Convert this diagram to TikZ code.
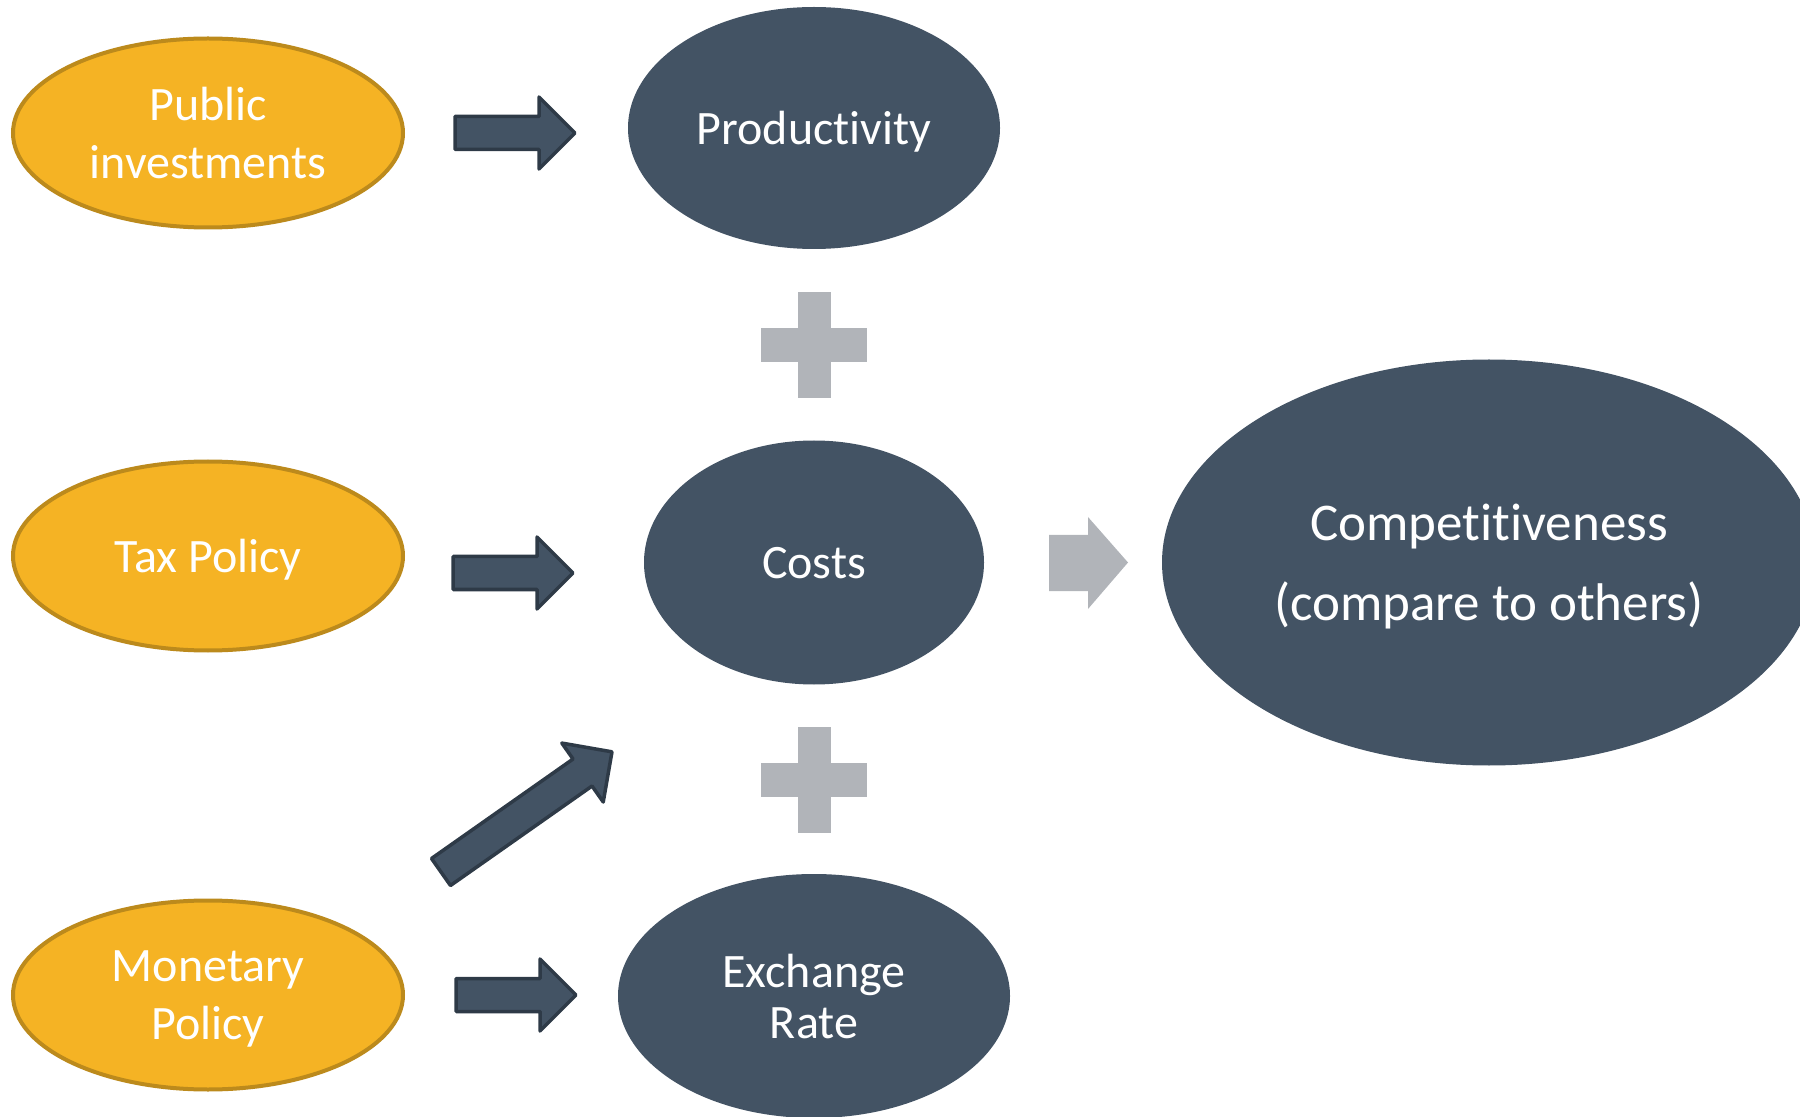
\documentclass[tikz,border=0pt]{standalone}
\usepackage{fontspec}
\setmainfont[Ligatures=NoCommon]{Carlito}
\usetikzlibrary{shapes.geometric,calc}

\definecolor{gold}{HTML}{F5B324}
\definecolor{goldline}{HTML}{BC8A1C}
\definecolor{slate}{HTML}{435364}
\definecolor{slateline}{HTML}{2E3A47}
\definecolor{mist}{HTML}{B1B4B9}

\tikzset{
  oval/.style={ellipse, inner sep=0pt, align=center, text=white, text depth=0pt},
  policy/.style={oval, fill=gold, draw=goldline, line width=2pt,
    minimum width=195pt, minimum height=94.5pt,
    font=\fontsize{24}{29}\selectfont},
  factor/.style={oval, fill=slate, font=\fontsize{24}{29}\selectfont},
  % block arrow pointing along +x, length #1
  blockarrow/.pic={
    \draw[fill=slate, draw=slateline, line width=1.75pt, line join=round]
      (0,-16.5) -- (#1-36,-16.5) -- (#1-36,-36) -- (#1,0)
      -- (#1-36,36) -- (#1-36,16.5) -- (0,16.5) -- cycle;
  },
  plussign/.pic={
    \fill[mist] (-16.5,-53) rectangle (16.5,53);
    \fill[mist] (-53,-17) rectangle (53,17);
  }
}

\begin{document}
\begin{tikzpicture}[x=0.5pt,y=-0.5pt]
\useasboundingbox (0,0) rectangle (1800,1117);

% policy levers
\node[policy] (pub) at (208,133) {Public\\investments};
\node[policy] (tax) at (208,556) {Tax Policy};
\node[policy] (mon) at (208,995) {Monetary\\Policy};

% cost factors
\node[factor, minimum width=186pt, minimum height=121pt] (prod) at (814,128) {Productivity};
\node[factor, minimum width=170pt, minimum height=122pt] (costs) at (814,562.5) {Costs};
\node[factor, minimum width=196pt, minimum height=122pt,
      font=\fontsize{24}{25.5}\selectfont] (exch) at (814,996) {Exchange\\Rate};

% outcome
\node[oval, fill=slate, minimum width=327pt, minimum height=203pt,
      font=\fontsize{26.5}{40}\selectfont] (comp) at (1489,562.5)
      {Competitiveness\\(compare to others)};

% arrows from the levers
\pic at ([xshift=25pt]pub.east) {blockarrow=120};
\pic at ([xshift=24pt,yshift=-8.5pt]tax.east) {blockarrow=120};
\pic at ([xshift=25.5pt]mon.east) {blockarrow=120};
\coordinate (diagtail) at (441,872);
\pic[rotate=35.1] at (diagtail) {blockarrow=209};

% plus signs between the factors
\pic at ($(prod)!0.5!(costs)$) {plussign};
\pic at (814,779.5) {plussign};

% arrow into the outcome
\fill[mist] (1049,535) -- (1088,535) -- (1088,517) -- (1128,562.5)
  -- (1088,609) -- (1088,591) -- (1049,591) -- cycle;
\end{tikzpicture}
\end{document}
